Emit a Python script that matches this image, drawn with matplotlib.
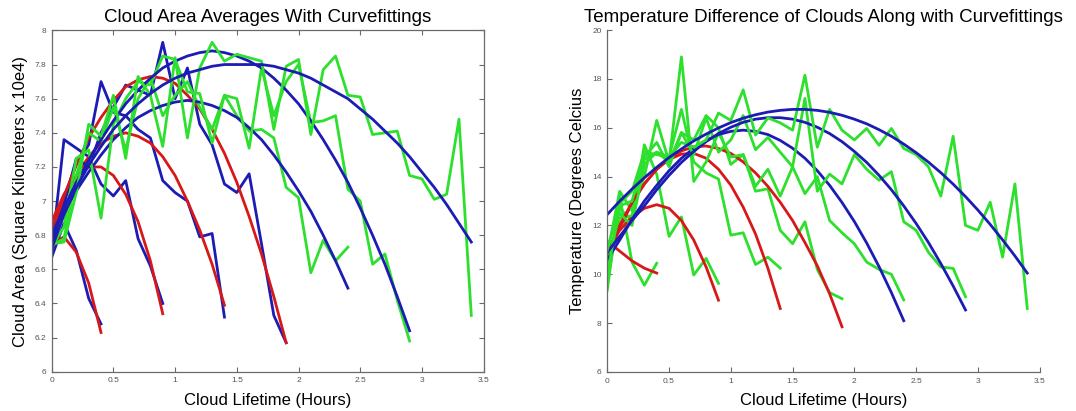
import matplotlib
matplotlib.use("Agg")
import matplotlib.pyplot as plt

plt.rcParams['font.family'] = ['Liberation Sans', 'DejaVu Sans']

# --- Data ---
hours = [0.0, 0.1, 0.2, 0.3, 0.4, 0.5, 0.6, 0.7, 0.8, 0.9,
         1.0, 1.1, 1.2, 1.3, 1.4, 1.5, 1.6, 1.7, 1.8, 1.9,
         2.0, 2.1, 2.2, 2.3, 2.4, 2.5, 2.6, 2.7, 2.8, 2.9,
         3.0, 3.1, 3.2, 3.3, 3.4]

# cloud area averages (square km x 10e4)
area_raw_04 = [6.67, 6.87, 6.71, 6.43, 6.28]
area_raw_09 = [6.70, 7.36, 7.31, 7.26, 7.10, 7.03, 7.12, 6.78, 6.62, 6.40]
area_raw_14 = [6.72, 7.02, 7.22, 7.33, 7.70, 7.52, 7.50, 7.42, 7.37, 7.12,
               7.05, 7.00, 6.79, 6.81, 6.32]
area_raw_19 = [6.75, 6.98, 7.25, 7.20, 7.40, 7.55, 7.68, 7.65, 7.62, 7.93,
               7.60, 7.78, 7.45, 7.33, 7.10, 7.05, 7.16, 6.75, 6.33, 6.17]
area_raw_24 = [6.74, 6.78, 7.15, 7.40, 7.35, 7.55, 7.30, 7.60, 7.72, 7.50,
               7.62, 7.70, 7.55, 7.42, 7.62, 7.50, 7.41, 7.42, 7.37, 7.08,
               7.02, 6.58, 6.77, 6.65, 6.73]
area_raw_29 = [6.73, 6.85, 7.25, 7.30, 6.90, 7.45, 7.60, 7.70, 7.68, 7.85,
               7.83, 7.64, 7.63, 7.34, 7.62, 7.60, 7.31, 7.78, 7.50, 7.70,
               7.80, 7.46, 7.47, 7.50, 7.07, 7.00, 6.63, 6.69, 6.42, 6.18]
area_raw_34 = [6.75, 6.76, 7.05, 7.45, 7.38, 7.62, 7.25, 7.73, 7.62, 7.32,
               7.84, 7.37, 7.78, 7.93, 7.82, 7.86, 7.84, 7.82, 7.42, 7.79,
               7.83, 7.39, 7.77, 7.85, 7.62, 7.61, 7.39, 7.40, 7.41, 7.15,
               7.13, 7.01, 7.04, 7.48, 6.33]

area_fit_04 = [6.75, 6.79, 6.70, 6.52, 6.23]
area_fit_09 = [6.88, 7.04, 7.14, 7.20, 7.20, 7.15, 7.04, 6.88, 6.65, 6.34]
area_fit_14 = [6.83, 7.01, 7.15, 7.26, 7.34, 7.38, 7.40, 7.38, 7.34, 7.26,
               7.15, 7.00, 6.83, 6.63, 6.39]
area_fit_19 = [6.83, 7.03, 7.21, 7.37, 7.49, 7.59, 7.67, 7.71, 7.73, 7.72,
               7.69, 7.62, 7.54, 7.42, 7.28, 7.11, 6.91, 6.69, 6.44, 6.17]
area_fit_24 = [6.80, 6.94, 7.06, 7.17, 7.27, 7.36, 7.43, 7.49, 7.53, 7.56,
               7.58, 7.59, 7.58, 7.56, 7.53, 7.49, 7.43, 7.36, 7.27, 7.17,
               7.06, 6.94, 6.80, 6.65, 6.49]
area_fit_29 = [6.80, 6.96, 7.11, 7.24, 7.36, 7.47, 7.57, 7.65, 7.72, 7.78,
               7.82, 7.85, 7.87, 7.88, 7.87, 7.85, 7.82, 7.78, 7.72, 7.65,
               7.57, 7.47, 7.36, 7.24, 7.11, 6.96, 6.80, 6.63, 6.44, 6.24]
area_fit_34 = [6.72, 6.92, 7.08, 7.21, 7.32, 7.42, 7.50, 7.57, 7.63, 7.68,
               7.72, 7.75, 7.77, 7.79, 7.80, 7.80, 7.80, 7.80, 7.79, 7.77,
               7.75, 7.72, 7.68, 7.64, 7.60, 7.54, 7.48, 7.41, 7.34, 7.26,
               7.17, 7.08, 6.98, 6.87, 6.76]

# temperature difference (degrees celcius)
temp_raw_04 = [9.35, 13.2, 10.5, 9.55, 10.45]
temp_raw_09 = [9.6, 12.7, 12.2, 15.3, 14.1, 11.55, 12.35, 9.97, 10.65, 9.63]
temp_raw_14 = [10.2, 12.3, 12.4, 14.7, 15.0, 14.8, 16.75, 14.6, 14.15, 13.9,
               11.6, 11.7, 10.4, 10.7, 10.25]
temp_raw_19 = [10.8, 13.4, 12.6, 14.0, 16.3, 14.6, 15.8, 15.5, 16.5, 16.0,
               14.5, 14.9, 13.4, 13.5, 11.8, 11.25, 12.15, 10.2, 9.25, 9.0]
temp_raw_24 = [10.4, 12.5, 12.0, 14.5, 15.0, 14.6, 18.9, 13.8, 14.6, 15.8,
               14.8, 14.9, 13.6, 14.3, 13.2, 14.4, 13.3, 14.0, 12.2, 11.7,
               11.25, 10.5, 10.2, 10.0, 8.95]
temp_raw_29 = [10.0, 12.8, 13.0, 14.8, 15.4, 14.4, 15.8, 14.9, 16.4, 15.0,
               15.5, 16.5, 15.1, 15.6, 15.0, 14.4, 17.2, 13.4, 14.1, 13.7,
               14.9, 14.3, 13.85, 14.2, 12.15, 11.8, 10.9, 10.3, 10.24, 9.08]
temp_raw_34 = [11.0, 12.9, 13.4, 15.0, 14.9, 14.8, 15.4, 15.2, 15.5, 16.6,
               16.3, 17.55, 15.7, 16.4, 16.2, 15.9, 18.15, 15.2, 16.75, 15.9,
               15.5, 15.97, 15.28, 15.97, 15.15, 14.9, 14.4, 13.2, 15.65, 12.0,
               11.8, 12.95, 10.7, 13.7, 8.6]

temp_fit_04 = [11.35, 10.95, 10.55, 10.25, 10.05]
temp_fit_09 = [11.0, 11.8, 12.35, 12.7, 12.85, 12.7, 12.2, 11.4, 10.3, 8.94]
temp_fit_14 = [10.6, 11.9, 12.9, 13.7, 14.3, 14.7, 14.92, 14.95, 14.75, 14.3,
               13.65, 12.75, 11.65, 10.25, 8.6]
temp_fit_19 = [10.8, 12.0, 12.95, 13.7, 14.3, 14.75, 15.05, 15.22, 15.25, 15.15,
               14.95, 14.6, 14.15, 13.6, 12.95, 12.2, 11.3, 10.35, 9.2, 7.85]
temp_fit_24 = [10.6, 11.4, 12.25, 13.0, 13.64, 14.24, 14.75, 15.16, 15.48, 15.72,
               15.85, 15.9, 15.85, 15.72, 15.48, 15.16, 14.75, 14.24, 13.64, 12.94,
               12.16, 11.28, 10.31, 9.25, 8.1]
temp_fit_29 = [10.9, 11.55, 12.2, 12.8, 13.46, 14.05, 14.58, 15.03, 15.43, 15.76,
               16.02, 16.22, 16.35, 16.41, 16.41, 16.35, 16.22, 16.02, 15.76, 15.43,
               15.03, 14.58, 14.05, 13.46, 12.8, 12.08, 11.3, 10.44, 9.52, 8.54]
temp_fit_34 = [12.45, 12.99, 13.49, 13.95, 14.38, 14.78, 15.13, 15.46, 15.74, 15.99,
               16.21, 16.39, 16.53, 16.64, 16.71, 16.75, 16.75, 16.71, 16.63, 16.51,
               16.35, 16.16, 15.92, 15.65, 15.33, 14.98, 14.59, 14.16, 13.69, 13.18,
               12.63, 12.04, 11.41, 10.75, 10.05]

x_ticks = [0, 0.5, 1, 1.5, 2, 2.5, 3, 3.5]
x_tick_labels = ["0", "0.5", "1", "1.5", "2", "2.5", "3", "3.5"]
area_ticks = [6, 6.2, 6.4, 6.6, 6.8, 7, 7.2, 7.4, 7.6, 7.8, 8]
area_tick_labels = ["6", "6.2", "6.4", "6.6", "6.8", "7", "7.2", "7.4", "7.6", "7.8", "8"]
temp_ticks = [6, 8, 10, 12, 14, 16, 18, 20]
temp_tick_labels = ["6", "8", "10", "12", "14", "16", "18", "20"]

GREEN = "#2ee02e"
BLUE = "#1c1cb4"
RED = "#d81818"
AXIS = "#6a6a6a"
LW = 2.0


def style_axis(ax, box):
    ax.set_xlim(0, 3.5)
    ax.set_xticks(x_ticks)
    ax.set_xticklabels(x_tick_labels)
    ax.tick_params(direction="in", length=3.5, width=0.8, color=AXIS,
                   labelsize=6, labelcolor="#555555", pad=4,
                   top=box, right=box)
    for side, spine in ax.spines.items():
        spine.set_color(AXIS)
        spine.set_linewidth(0.9)
    if not box:
        ax.spines["top"].set_visible(False)
        ax.spines["right"].set_visible(False)


# --- Create graphs ---
fig = plt.figure(figsize=(10.76, 4.11), dpi=100)

ax1 = fig.add_axes([0.048, 0.0955, 0.4015, 0.8305])
area_sets = [(area_raw_04, area_fit_04, BLUE, RED),
             (area_raw_09, area_fit_09, BLUE, RED),
             (area_raw_14, area_fit_14, BLUE, RED),
             (area_raw_19, area_fit_19, BLUE, RED),
             (area_raw_24, area_fit_24, GREEN, BLUE),
             (area_raw_29, area_fit_29, GREEN, BLUE),
             (area_raw_34, area_fit_34, GREEN, BLUE)]
for raw, fit, c_raw, c_fit in area_sets:
    ax1.plot(hours[:len(raw)], raw, color=c_raw, lw=LW)
    ax1.plot(hours[:len(fit)], fit, color=c_fit, lw=LW)
ax1.set_ylim(6, 8)
ax1.set_yticks(area_ticks)
ax1.set_yticklabels(area_tick_labels)
style_axis(ax1, True)
ax1.set_title("Cloud Area Averages With Curvefittings", fontsize=13.5, pad=6)
ax1.set_xlabel("Cloud Lifetime (Hours)", fontsize=12, labelpad=6)
ax1.set_ylabel("Cloud Area (Square Kilometers x 10e4)", fontsize=12, labelpad=5)

ax2 = fig.add_axes([0.5644, 0.0949, 0.4018, 0.8321])
temp_sets = [(temp_raw_04, temp_fit_04, RED),
             (temp_raw_09, temp_fit_09, RED),
             (temp_raw_14, temp_fit_14, RED),
             (temp_raw_19, temp_fit_19, RED),
             (temp_raw_24, temp_fit_24, BLUE),
             (temp_raw_29, temp_fit_29, BLUE),
             (temp_raw_34, temp_fit_34, BLUE)]
for raw, fit, c_fit in temp_sets:
    ax2.plot(hours[:len(raw)], raw, color=GREEN, lw=LW)
    ax2.plot(hours[:len(fit)], fit, color=c_fit, lw=LW)
ax2.set_ylim(6, 20)
ax2.set_yticks(temp_ticks)
ax2.set_yticklabels(temp_tick_labels)
style_axis(ax2, False)
ax2.set_title("Temperature Difference of Clouds Along with Curvefittings",
              fontsize=13.5, pad=6)
ax2.set_xlabel("Cloud Lifetime (Hours)", fontsize=12, labelpad=6)
ax2.set_ylabel("Temperature (Degrees Celcius", fontsize=12, labelpad=5)

fig.savefig("out.png", dpi=100)
